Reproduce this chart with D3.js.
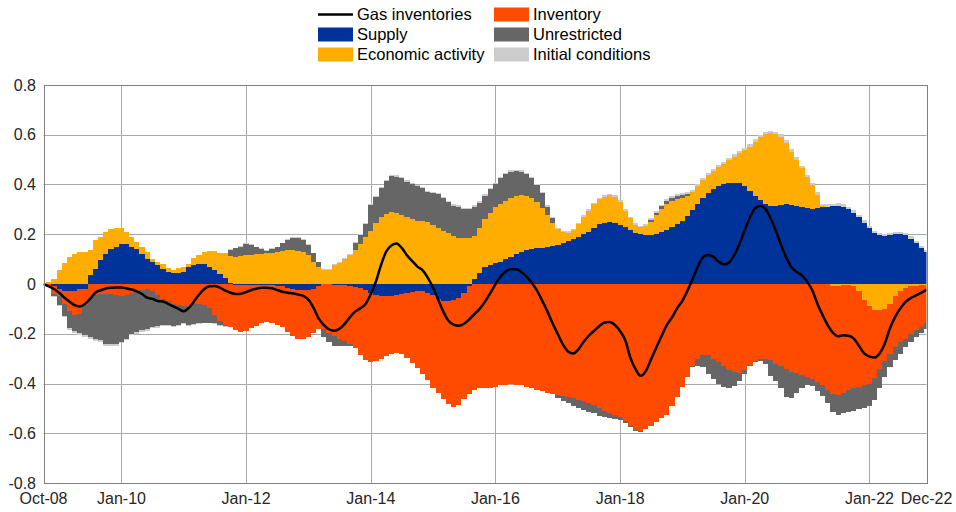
<!DOCTYPE html>
<html>
<head>
<meta charset="utf-8">
<script src="https://cdn.jsdelivr.net/npm/d3@7"></script>
<style>
  body { margin: 0; background: #fff; }
  svg { display: block; font-family: "Liberation Sans", Arial, Helvetica, sans-serif; }
</style>
</head>
<body>
<svg id="chart" width="956" height="512"></svg>
<script>
// monthly observations, Oct-08 .. Dec-22
var firstMonth = new Date(2008, 9, 1),
    lastMonth = new Date(2022, 11, 1);

var tickDates = [new Date(2008, 9, 1), new Date(2010, 0, 1), new Date(2012, 0, 1), new Date(2014, 0, 1),
                 new Date(2016, 0, 1), new Date(2018, 0, 1), new Date(2020, 0, 1), new Date(2022, 0, 1),
                 new Date(2022, 11, 1)];
var yTicks = [-0.8, -0.6, -0.4, -0.2, 0, 0.2, 0.4, 0.6, 0.8];

var supply = [
  0, 0, -0.01, -0.02, -0.03, -0.03, -0.03, -0.02, -0.02, 0.035,
  0.06, 0.095, 0.12, 0.14, 0.15, 0.16, 0.16, 0.15, 0.14, 0.12,
  0.10, 0.09, 0.075, 0.06, 0.05, 0.043, 0.043, 0.05, 0.068, 0.076,
  0.08, 0.08, 0.07, 0.056, 0.04, 0.023, 0.005, -0.004, -0.005, -0.005,
  -0.005, -0.005, -0.005, -0.004, -0.005, -0.007, -0.01, -0.018, -0.022, -0.025,
  -0.025, -0.024, -0.02, -0.01, 0, -0.002, -0.003, -0.004, -0.005, -0.008,
  -0.012, -0.015, -0.025, -0.035, -0.045, -0.05, -0.05, -0.048, -0.045, -0.042,
  -0.038, -0.033, -0.03, -0.03, -0.035, -0.045, -0.06, -0.07, -0.07, -0.065,
  -0.055, -0.035, -0.01, 0.02, 0.045, 0.067, 0.076, 0.083, 0.09, 0.099,
  0.11, 0.12, 0.127, 0.137, 0.141, 0.143, 0.145, 0.149, 0.154, 0.158,
  0.165, 0.173, 0.18, 0.19, 0.2, 0.21, 0.227, 0.24, 0.247, 0.25,
  0.244, 0.237, 0.228, 0.217, 0.206, 0.2, 0.197, 0.197, 0.201, 0.208,
  0.217, 0.23, 0.241, 0.255, 0.273, 0.298, 0.322, 0.345, 0.365, 0.382,
  0.393, 0.401, 0.406, 0.408, 0.405, 0.394, 0.375, 0.354, 0.338, 0.322,
  0.315, 0.315, 0.318, 0.322, 0.319, 0.315, 0.311, 0.307, 0.303, 0.304,
  0.308, 0.31, 0.312, 0.315, 0.311, 0.3, 0.287, 0.268, 0.247, 0.225,
  0.206, 0.197, 0.193, 0.197, 0.2, 0.2, 0.196, 0.182, 0.164, 0.143,
  0.13];

var econActivity = [
  0, 0.01, 0.02, 0.056, 0.083, 0.11, 0.12, 0.127, 0.13, 0.1,
  0.117, 0.095, 0.09, 0.08, 0.076, 0.066, 0.05, 0.04, 0.03, 0.03,
  0.03, 0.01, 0.015, 0.02, 0.013, 0.013, 0.02, 0.02, 0.012, 0.027,
  0.037, 0.05, 0.064, 0.077, 0.086, 0.1, 0.109, 0.11, 0.113, 0.117,
  0.117, 0.12, 0.12, 0.123, 0.126, 0.13, 0.133, 0.137, 0.137, 0.134,
  0.13, 0.117, 0.09, 0.067, 0.056, 0.056, 0.075, 0.085, 0.1, 0.115,
  0.135, 0.16, 0.19, 0.215, 0.245, 0.268, 0.282, 0.288, 0.285, 0.276,
  0.268, 0.26, 0.255, 0.253, 0.248, 0.237, 0.224, 0.214, 0.204, 0.193,
  0.186, 0.184, 0.184, 0.173, 0.18, 0.193, 0.211, 0.225, 0.233, 0.236,
  0.236, 0.234, 0.231, 0.217, 0.203, 0.185, 0.159, 0.128, 0.093, 0.063,
  0.043, 0.033, 0.037, 0.051, 0.071, 0.085, 0.093, 0.1, 0.104, 0.107,
  0.107, 0.092, 0.067, 0.047, 0.031, 0.028, 0.036, 0.053, 0.076, 0.092,
  0.105, 0.104, 0.099, 0.091, 0.081, 0.073, 0.072, 0.073, 0.073, 0.074,
  0.076, 0.082, 0.093, 0.104, 0.12, 0.145, 0.177, 0.218, 0.252, 0.28,
  0.291, 0.287, 0.274, 0.246, 0.213, 0.184, 0.154, 0.122, 0.095, 0.054,
  0.005, 0, -0.008, -0.01, -0.005, -0.003, -0.01, -0.03, -0.065, -0.09,
  -0.103, -0.105, -0.1, -0.08, -0.05, -0.028, -0.015, -0.01, -0.008, -0.005,
  -0.003];

var inventory = [
  0, -0.01, -0.03, -0.03, -0.05, -0.08, -0.095, -0.1, -0.065, -0.058,
  -0.045, -0.04, -0.04, -0.04, -0.045, -0.048, -0.045, -0.035, -0.028, -0.025,
  -0.022, -0.03, -0.045, -0.06, -0.07, -0.08, -0.085, -0.09, -0.088, -0.082,
  -0.082, -0.084, -0.098, -0.125, -0.15, -0.165, -0.174, -0.18, -0.187, -0.183,
  -0.173, -0.164, -0.153, -0.15, -0.152, -0.158, -0.164, -0.174, -0.187, -0.195,
  -0.195, -0.188, -0.176, -0.172, -0.18, -0.193, -0.207, -0.216, -0.225, -0.233,
  -0.247, -0.271, -0.281, -0.277, -0.265, -0.252, -0.24, -0.234, -0.231, -0.24,
  -0.261, -0.283, -0.309, -0.333, -0.351, -0.372, -0.38, -0.394, -0.414, -0.428,
  -0.432, -0.429, -0.432, -0.426, -0.42, -0.42, -0.418, -0.413, -0.408, -0.405,
  -0.404, -0.405, -0.408, -0.413, -0.42, -0.425, -0.43, -0.437, -0.442, -0.447,
  -0.45, -0.455, -0.46, -0.465, -0.47, -0.478, -0.488, -0.5, -0.51, -0.52,
  -0.527, -0.535, -0.55, -0.57, -0.585, -0.59, -0.583, -0.57, -0.555, -0.54,
  -0.525, -0.49, -0.455, -0.415, -0.375, -0.33, -0.3, -0.285, -0.285, -0.3,
  -0.315, -0.33, -0.345, -0.355, -0.358, -0.345, -0.325, -0.31, -0.303, -0.3,
  -0.305, -0.32, -0.33, -0.34, -0.352, -0.358, -0.365, -0.373, -0.38, -0.393,
  -0.408, -0.425, -0.435, -0.436, -0.432, -0.425, -0.41, -0.383, -0.341, -0.31,
  -0.275, -0.235, -0.21, -0.202, -0.205, -0.207, -0.205, -0.19, -0.178, -0.167,
  -0.155];

var unrestricted = [
  0, 0, -0.01, -0.034, -0.047, -0.068, -0.065, -0.078, -0.12, -0.154,
  -0.178, -0.185, -0.2, -0.203, -0.198, -0.184, -0.175, -0.165, -0.165, -0.16,
  -0.16, -0.142, -0.125, -0.105, -0.095, -0.088, -0.08, -0.068, -0.075, -0.08,
  -0.076, -0.071, -0.057, -0.033, -0.015, -0.005, 0.023, 0.033, 0.037, 0.043,
  0.04, 0.027, 0.02, 0.011, 0.014, 0.017, 0.03, 0.04, 0.047, 0.05,
  0.047, 0.04, 0.033, 0.02, -0.035, -0.04, -0.04, -0.03, -0.02, -0.01,
  0.03, 0.035, 0.05, 0.103, 0.105, 0.117, 0.133, 0.146, 0.147, 0.149,
  0.144, 0.14, 0.137, 0.132, 0.122, 0.128, 0.136, 0.131, 0.126, 0.122,
  0.124, 0.116, 0.116, 0.117, 0.102, 0.094, 0.094, 0.094, 0.102, 0.107,
  0.106, 0.1, 0.094, 0.088, 0.081, 0.07, 0.061, 0.034, 0.017, -0.01,
  -0.02, -0.025, -0.03, -0.035, -0.035, -0.035, -0.03, -0.03, -0.025, -0.02,
  -0.015, -0.01, -0.01, -0.005, -0.005, -0.005, 0, 0.008, 0.01, 0.012,
  0.012, 0.012, 0.012, 0.01, 0.008, -0.005, -0.03, -0.05, -0.075, -0.08,
  -0.085, -0.083, -0.075, -0.055, -0.032, -0.015, -0.005, -0.003, -0.005, -0.02,
  -0.065, -0.07, -0.09, -0.115, -0.108, -0.082, -0.055, -0.035, -0.03, -0.037,
  -0.042, -0.055, -0.072, -0.081, -0.083, -0.087, -0.09, -0.09, -0.094, -0.09,
  -0.09, -0.08, -0.065, -0.053, -0.05, -0.045, -0.035, -0.035, -0.029, -0.023,
  -0.022];

var initialConditions = [
  0, 0, -0.003, -0.005, -0.006, -0.007, -0.008, -0.008, -0.008, -0.008,
  -0.008, -0.008, -0.008, -0.008, -0.007, -0.007, -0.007, -0.006, -0.006, -0.006,
  -0.005, -0.005, -0.005, -0.005, -0.004, -0.004, -0.004, -0.004, -0.004, -0.004,
  -0.003, -0.003, -0.003, -0.003, -0.003, -0.003, 0.003, 0.003, 0.003, 0.003,
  0.003, 0.003, 0.003, 0.003, 0.003, 0.003, 0.003, 0.003, 0.003, 0.003,
  0.003, 0.003, 0.003, 0.003, 0.004, 0.004, 0.004, 0.004, 0.004, 0.004,
  0.005, 0.005, 0.005, 0.005, 0.005, 0.005, 0.005, 0.005, 0.005, 0.005,
  0.005, 0.005, 0.005, 0.005, 0.005, 0.005, 0.005, 0.005, 0.005, 0.005,
  0.006, 0.006, 0.006, 0.006, 0.006, 0.006, 0.006, 0.006, 0.006, 0.006,
  0.006, 0.006, 0.006, 0.006, 0.006, 0.006, 0.006, 0.006, 0.006, 0.006,
  0.006, 0.006, 0.006, 0.006, 0.006, 0.006, 0.006, 0.006, 0.006, 0.006,
  0.007, 0.007, 0.007, 0.007, 0.007, 0.007, 0.007, 0.007, 0.007, 0.007,
  0.008, 0.008, 0.008, 0.008, 0.008, 0.008, 0.008, 0.008, 0.008, 0.008,
  0.009, 0.009, 0.009, 0.009, 0.009, 0.009, 0.009, 0.009, 0.009, 0.009,
  0.01, 0.01, 0.01, 0.01, 0.01, 0.01, 0.01, 0.01, 0.01, 0.01,
  0.01, 0.01, 0.01, 0.01, 0.01, 0.01, 0.01, 0.01, 0.01, 0.01,
  0.009, 0.009, 0.009, 0.009, 0.009, 0.009, 0.009, 0.009, 0.009, 0.009,
  0.008];

var gasInventories = [
  0, -0.01, -0.02, -0.035, -0.055, -0.07, -0.085, -0.09, -0.08, -0.06,
  -0.035, -0.025, -0.018, -0.015, -0.014, -0.014, -0.018, -0.022, -0.03, -0.04,
  -0.055, -0.06, -0.068, -0.07, -0.08, -0.09, -0.1, -0.11, -0.095, -0.071,
  -0.042, -0.02, -0.009, -0.008, -0.015, -0.027, -0.035, -0.04, -0.039, -0.032,
  -0.024, -0.019, -0.015, -0.015, -0.017, -0.024, -0.031, -0.035, -0.038, -0.042,
  -0.048, -0.064, -0.098, -0.138, -0.165, -0.182, -0.188, -0.18, -0.16, -0.133,
  -0.111, -0.097, -0.08, -0.04, 0.012, 0.075, 0.13, 0.155, 0.163, 0.145,
  0.115, 0.092, 0.07, 0.055, 0.025, -0.015, -0.065, -0.11, -0.148, -0.163,
  -0.168, -0.16, -0.142, -0.12, -0.1, -0.071, -0.038, -0.001, 0.03, 0.05,
  0.059, 0.059, 0.048, 0.03, 0.005, -0.027, -0.067, -0.111, -0.158, -0.202,
  -0.245, -0.271, -0.279, -0.263, -0.232, -0.208, -0.188, -0.169, -0.155, -0.153,
  -0.165, -0.19, -0.228, -0.295, -0.342, -0.369, -0.349, -0.303, -0.255, -0.209,
  -0.165, -0.134, -0.097, -0.067, -0.024, 0.019, 0.07, 0.107, 0.117, 0.11,
  0.09, 0.078, 0.086, 0.117, 0.161, 0.217, 0.268, 0.304, 0.314, 0.302,
  0.263, 0.214, 0.157, 0.105, 0.067, 0.048, 0.035, 0.009, -0.027, -0.078,
  -0.125, -0.165, -0.196, -0.21, -0.206, -0.208, -0.22, -0.249, -0.279, -0.292,
  -0.295, -0.279, -0.239, -0.178, -0.131, -0.098, -0.072, -0.056, -0.046, -0.035,
  -0.024];

// stacking order follows the legend (column-wise)
var series = [
  {key: "Supply", values: supply, color: "#003399"},
  {key: "Economic activity", values: econActivity, color: "#FFAD00"},
  {key: "Inventory", values: inventory, color: "#FF4B00"},
  {key: "Unrestricted", values: unrestricted, color: "#666666"},
  {key: "Initial conditions", values: initialConditions, color: "#CCCCCC"}
];

var months = d3.timeMonth.range(firstMonth, d3.timeMonth.offset(lastMonth, 1));

var table = months.map(function(d, i) {
  var row = {date: d};
  series.forEach(function(s) { row[s.key] = s.values[i]; });
  return row;
});

var svg = d3.select("#chart");

var plot = {left: 43.5, right: 926.5, top: 85, bottom: 483};

var x = d3.scaleTime()
    .domain([firstMonth, lastMonth])
    .range([plot.left, plot.right]);

var y = d3.scaleLinear()
    .domain([-0.8, 0.8])
    .range([plot.bottom, plot.top]);

var gridColor = "#a9a9a9",
    axisColor = "#808080",
    textColor = "#262626";

svg.append("defs").append("clipPath")
    .attr("id", "plotclip")
  .append("rect")
    .attr("x", plot.left)
    .attr("y", plot.top)
    .attr("width", plot.right - plot.left)
    .attr("height", plot.bottom - plot.top);

// grid
svg.append("g")
    .selectAll("line")
    .data(tickDates.slice(1, -1))
    .enter().append("line")
    .attr("x1", function(d) { return Math.round(x(d)) + 0.5; })
    .attr("x2", function(d) { return Math.round(x(d)) + 0.5; })
    .attr("y1", plot.top)
    .attr("y2", plot.bottom)
    .attr("stroke", gridColor)
    .attr("stroke-width", 1);

svg.append("g")
    .selectAll("line")
    .data(yTicks.slice(1, -1))
    .enter().append("line")
    .attr("x1", plot.left)
    .attr("x2", plot.right)
    .attr("y1", function(d) { return Math.round(y(d)) + 0.5; })
    .attr("y2", function(d) { return Math.round(y(d)) + 0.5; })
    .attr("stroke", gridColor)
    .attr("stroke-width", 1);

// stacked bars, positives above zero, negatives below
var stack = d3.stack()
    .keys(series.map(function(s) { return s.key; }))
    .order(d3.stackOrderNone)
    .offset(d3.stackOffsetDiverging);

var layers = stack(table);

// bar edges sit half way between neighbouring months
function barLeft(date) {
  return Math.round((x(d3.timeMonth.offset(date, -1)) + x(date)) / 2);
}
function barRight(date) {
  return Math.round((x(date) + x(d3.timeMonth.offset(date, 1))) / 2);
}

var bars = svg.append("g")
    .attr("clip-path", "url(#plotclip)")
    .attr("shape-rendering", "crispEdges");

bars.selectAll("g")
    .data(layers)
    .enter().append("g")
    .attr("fill", function(d, i) { return series[i].color; })
  .selectAll("rect")
    .data(function(d) { return d; })
    .enter().append("rect")
    .attr("x", function(d) { return barLeft(d.data.date); })
    .attr("width", function(d) { return barRight(d.data.date) - barLeft(d.data.date); })
    .attr("y", function(d) { return Math.round(y(d[1])); })
    .attr("height", function(d) { return Math.max(0, Math.round(y(d[0])) - Math.round(y(d[1]))); });

// gas inventories line
var line = d3.line()
    .x(function(d) { return x(d.date); })
    .y(function(d) { return y(d.value); })
    .curve(d3.curveMonotoneX);

svg.append("path")
    .datum(months.map(function(d, i) { return {date: d, value: gasInventories[i]}; }))
    .attr("clip-path", "url(#plotclip)")
    .attr("fill", "none")
    .attr("stroke", "#000")
    .attr("stroke-width", 2.5)
    .attr("stroke-linejoin", "round")
    .attr("d", line);

// box
svg.append("rect")
    .attr("x", Math.round(plot.left) + 0.5)
    .attr("y", plot.top + 0.5)
    .attr("width", Math.round(plot.right) - Math.round(plot.left))
    .attr("height", plot.bottom - plot.top)
    .attr("fill", "none")
    .attr("stroke", axisColor)
    .attr("stroke-width", 1);

// tick labels
svg.append("g")
    .selectAll("text")
    .data(yTicks)
    .enter().append("text")
    .attr("x", 36)
    .attr("y", function(d) { return y(d); })
    .attr("dy", "0.35em")
    .attr("text-anchor", "end")
    .attr("font-size", 16)
    .attr("fill", textColor)
    .text(function(d) { return d === 0 ? "0" : String(d); });

var fmt = d3.timeFormat("%b-%y");
svg.append("g")
    .selectAll("text")
    .data(tickDates)
    .enter().append("text")
    .attr("x", function(d) { return x(d); })
    .attr("y", 504)
    .attr("text-anchor", "middle")
    .attr("font-size", 16)
    .attr("fill", textColor)
    .text(function(d) { return fmt(d); });

// legend, two columns
var legendItems = [
  {key: "Gas inventories", line: true, col: 0, row: 0},
  {key: "Supply", color: series[0].color, col: 0, row: 1},
  {key: "Economic activity", color: series[1].color, col: 0, row: 2},
  {key: "Inventory", color: series[2].color, col: 1, row: 0},
  {key: "Unrestricted", color: series[3].color, col: 1, row: 1},
  {key: "Initial conditions", color: series[4].color, col: 1, row: 2}
];
var colX = [318, 494], rowY = [14.5, 34.5, 54.5];

var legend = svg.append("g")
    .selectAll("g")
    .data(legendItems)
    .enter().append("g")
    .attr("transform", function(d) { return "translate(" + colX[d.col] + "," + rowY[d.row] + ")"; });

legend.filter(function(d) { return d.line; })
  .append("line")
    .attr("x1", 0).attr("x2", 35)
    .attr("y1", 0).attr("y2", 0)
    .attr("stroke", "#000")
    .attr("stroke-width", 2.5);

legend.filter(function(d) { return !d.line; })
  .append("rect")
    .attr("x", 0).attr("y", -7)
    .attr("width", 35).attr("height", 14)
    .attr("fill", function(d) { return d.color; });

legend.append("text")
    .attr("x", 39)
    .attr("dy", "0.35em")
    .attr("font-size", 16.5)
    .attr("fill", "#000")
    .text(function(d) { return d.key; });
</script>
</body>
</html>
